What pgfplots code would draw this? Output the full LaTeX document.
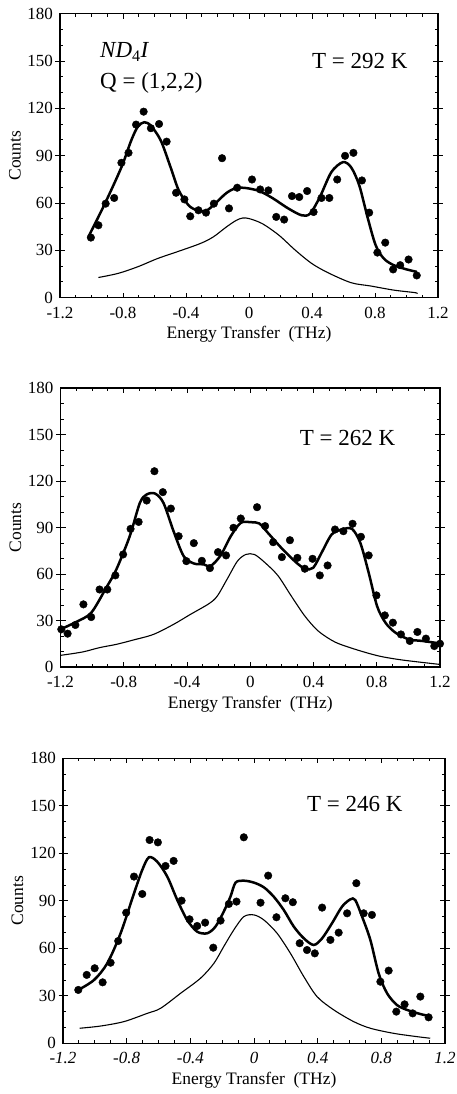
\documentclass[border=0pt]{standalone}
\usepackage{fontspec}
\setmainfont{Liberation Serif}
\usepackage{pgfplots}
\pgfplotsset{compat=1.18}

% common look of the three scans
\pgfplotsset{
  scan/.style={
    scale only axis,
    anchor=south west,
    xmin=-1.2, xmax=1.2, ymin=0, ymax=180,
    xtick={-1.2,-0.8,-0.4,0,0.4,0.8,1.2},
    xticklabels={-1.2,-0.8,-0.4,0,0.4,0.8,1.2},
    ytick={0,30,60,90,120,150,180},
    yticklabels={{0\hspace{9pt}},30,60,90,120,150,180},
    extra y ticks={30,60,90,120,150},
    extra y tick labels={},
    extra y tick style={tick align=center, major tick length=9pt},
    minor x tick num=3, minor y tick num=2,
    tick align=inside,
    major tick length=5pt, minor tick length=3pt,
    every tick/.style={black, line width=0.9pt},
    axis line style={line width=1.4pt},
    tick label style={font=\fontsize{17}{19}\selectfont, inner sep=1pt},
    xticklabel style={yshift=-8pt},
    yticklabel style={xshift=-6pt},
    label style={font=\fontsize{17.5}{20}\selectfont},
    xlabel={Energy Transfer\ \ (THz)},
    ylabel={Counts},
    xlabel style={at={(axis description cs:0.5,0)}, anchor=center, yshift=-37pt},
    ylabel style={at={(axis description cs:-0.119,0.5)}, anchor=center},
  },
  dots/.style={only marks, mark=*, mark size=3.8pt, black},
  fit/.style={black, line width=2.5pt, smooth, tension=0.5},
  central/.style={black, line width=1.1pt, smooth, tension=0.5},
}

\newcommand{\biglabel}{\fontsize{23}{26}\selectfont}

\begin{document}
\begin{tikzpicture}
\useasboundingbox (0pt,0pt) rectangle (457pt,1094pt);

% ---------------- T = 292 K ----------------
\begin{axis}[scan, at={(60pt,796.3pt)}, width=378pt, height=284pt]
\addplot[central] coordinates {(-0.956,12.8)(-0.831,15.4)(-0.706,19.6)(-0.581,24.8)(-0.456,29.1)(-0.31,34.3)(-0.227,38.5)(-0.144,44.8)(-0.081,49)(-0.04,50.5)(0.002,50.1)(0.085,46.9)(0.19,39.6)(0.294,30.1)(0.398,21.7)(0.502,15.8)(0.648,9.5)(0.773,7.4)(0.919,4.8)(1.054,3.2)(1.065,2.6)};
\addplot[fit] coordinates {(-1.02,38.5)(-0.915,59.6)(-0.81,82.7)(-0.748,99.6)(-0.706,108.4)(-0.665,111.2)(-0.623,109)(-0.56,99.6)(-0.498,82.7)(-0.446,68)(-0.383,58.5)(-0.33,55.4)(-0.279,54.7)(-0.227,58.5)(-0.144,66.3)(-0.081,69.5)(-0.019,69.5)(0.065,67.6)(0.148,63.2)(0.252,56.4)(0.335,52.2)(0.388,53.3)(0.45,63.8)(0.523,79.6)(0.596,85.9)(0.648,82.7)(0.70,71.2)(0.752,51.2)(0.804,33.3)(0.856,24.8)(0.919,20.6)(1.002,17.9)(1.065,16.4)};
\addplot[dots] coordinates {(-1.004,38.1)(-0.956,45.9)(-0.910,59.6)(-0.856,63.2)(-0.810,85.5)(-0.765,91.8)(-0.717,109.7)(-0.669,117.9)(-0.623,107.4)(-0.571,110.1)(-0.523,98.9)(-0.463,66.5)(-0.410,62.3)(-0.373,51.6)(-0.321,55.4)(-0.273,53.9)(-0.223,59.6)(-0.171,88.4)(-0.127,56.6)(-0.075,69.7)(0.019,74.9)(0.071,68.6)(0.123,68.0)(0.173,51.2)(0.223,49.5)(0.273,64.4)(0.319,63.8)(0.369,67.6)(0.410,54.3)(0.460,63.2)(0.510,63.2)(0.560,74.9)(0.610,89.9)(0.663,91.8)(0.717,74.3)(0.763,53.9)(0.815,28.6)(0.865,34.9)(0.915,17.9)(0.960,20.6)(1.013,24.2)(1.065,14.1)};
\node[anchor=base west, inner sep=0pt, font=\biglabel] at (axis cs:-0.946,152) {\textit{ND}\textsubscript{4}\textit{I}};
\node[anchor=base west, inner sep=0pt, font=\biglabel] at (axis cs:-0.946,132.8) {Q = (1,2,2)};
\node[anchor=base west, inner sep=0pt, font=\biglabel] at (axis cs:0.40,145.3) {T = 292 K};
\end{axis}

% ---------------- T = 262 K ----------------
\begin{axis}[scan, at={(60.5pt,427pt)}, width=379.5pt, height=279pt]
\addplot[central] coordinates {(-1.2,7.5)(-1.06,9.7)(-0.953,12.5)(-0.847,14.6)(-0.74,17.4)(-0.613,21)(-0.485,27.5)(-0.379,33.9)(-0.262,40.8)(-0.209,45.7)(-0.145,56.9)(-0.081,68.3)(-0.028,72.6)(0.026,72.6)(0.089,67.7)(0.174,59.1)(0.26,45.7)(0.345,32.9)(0.43,23.2)(0.536,16.1)(0.664,11.4)(0.813,7.1)(0.962,4.5)(1.196,1.7)};
\addplot[fit] coordinates {(-1.2,24.3)(-1.102,29)(-1.006,35)(-0.911,51.1)(-0.847,62.9)(-0.762,84.4)(-0.698,105.9)(-0.655,111.3)(-0.602,111.9)(-0.549,105.9)(-0.485,87.6)(-0.421,71.5)(-0.357,66.8)(-0.294,66.2)(-0.251,65.1)(-0.187,72.0)(-0.123,84.4)(-0.06,93)(0.004,93.4)(0.057,92.6)(0.111,86.6)(0.196,76.9)(0.281,68.3)(0.345,63.4)(0.398,64)(0.451,73.7)(0.515,85.5)(0.579,88.7)(0.643,89.1)(0.696,80.1)(0.749,60.8)(0.802,39.3)(0.855,28.6)(0.919,22.1)(1.004,17.8)(1.089,16.8)(1.2,15.2)};
\addplot[dots] coordinates {(-1.195,24.3)(-1.155,21.5)(-1.106,27.1)(-1.055,40.4)(-1.006,32.2)(-0.953,50.0)(-0.904,50.0)(-0.853,59.1)(-0.804,72.6)(-0.757,89.1)(-0.706,93.6)(-0.655,107.4)(-0.606,126.3)(-0.553,112.8)(-0.502,102.2)(-0.453,84.4)(-0.404,68.3)(-0.357,79.9)(-0.306,68.5)(-0.255,63.8)(-0.204,74.1)(-0.153,72.0)(-0.106,89.8)(-0.06,95.8)(0.043,103.1)(0.094,90.9)(0.145,80.5)(0.2,70.9)(0.251,81.8)(0.298,70.4)(0.345,63.4)(0.394,69.8)(0.440,59.1)(0.489,65.5)(0.536,88.7)(0.589,87.6)(0.647,92.4)(0.70,84.0)(0.749,72.0)(0.798,46.2)(0.851,33.3)(0.902,28.6)(0.953,21.0)(1.009,16.8)(1.057,22.6)(1.111,18.3)(1.164,13.5)(1.2,15.0)};
\node[anchor=base west, inner sep=0pt, font=\biglabel] at (axis cs:0.313,142.8) {T = 262 K};
\end{axis}

% ---------------- T = 246 K ----------------
\begin{axis}[scan, at={(63pt,50.7pt)}, width=382pt, height=285pt,
  xticklabel style={font=\fontsize{17}{19}\selectfont\itshape}]
\addplot[central] coordinates {(-1.095,9.5)(-0.964,10.9)(-0.817,13.7)(-0.671,18.9)(-0.587,22.1)(-0.461,31.6)(-0.336,41.1)(-0.252,50.5)(-0.19,61.1)(-0.127,71.6)(-0.064,80)(-0.001,81.1)(0.062,77.9)(0.145,69.5)(0.229,56.8)(0.313,42.1)(0.396,29.5)(0.501,21.1)(0.626,13.7)(0.731,9.5)(0.877,6.3)(1.024,4.2)(1.107,3.2)};
\addplot[fit] coordinates {(-1.104,33.7)(-1.005,40)(-0.922,50.5)(-0.838,69.5)(-0.754,94.7)(-0.702,109.5)(-0.66,117.5)(-0.608,114.7)(-0.545,105.3)(-0.482,90.5)(-0.42,77.9)(-0.357,70.5)(-0.294,69.5)(-0.242,73.7)(-0.19,83.2)(-0.148,92.6)(-0.116,101.5)(-0.064,102.7)(-0.001,101.5)(0.062,98.5)(0.124,92.6)(0.187,84.2)(0.25,73.7)(0.313,66.3)(0.375,62.1)(0.428,66.3)(0.49,75.8)(0.553,86.3)(0.605,90.9)(0.636,90.5)(0.679,80)(0.731,65.3)(0.783,44.2)(0.836,31.6)(0.898,24.2)(0.961,21.1)(1.045,18.5)(1.097,17.3)};
\addplot[dots] coordinates {(-1.104,33.7)(-1.051,43.2)(-1.001,47.4)(-0.951,38.5)(-0.901,50.9)(-0.853,64.6)(-0.803,82.5)(-0.754,105.3)(-0.702,94.3)(-0.656,128.4)(-0.604,126.9)(-0.556,112.0)(-0.505,115.2)(-0.455,90.1)(-0.405,78.3)(-0.357,74.1)(-0.307,76.2)(-0.256,60.4)(-0.21,77.5)(-0.158,88.0)(-0.11,89.5)(-0.064,130.1)(0.041,88.8)(0.089,105.9)(0.141,79.6)(0.197,91.6)(0.244,89.1)(0.287,63.2)(0.333,58.9)(0.382,56.8)(0.428,85.7)(0.480,65.3)(0.532,69.9)(0.585,82.1)(0.643,101.1)(0.689,82.1)(0.741,81.1)(0.794,38.9)(0.846,45.9)(0.894,20.0)(0.946,24.6)(0.997,18.9)(1.045,29.5)(1.097,16.4)};
\node[anchor=base west, inner sep=0pt, font=\biglabel] at (axis cs:0.333,146.7) {T = 246 K};
\end{axis}
\end{tikzpicture}
\end{document}
